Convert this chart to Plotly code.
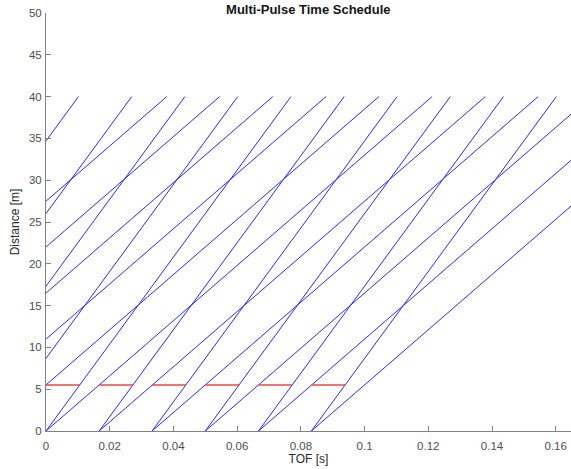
import plotly.graph_objects as go

# Pulse emission times [s] (pulses before t=0 run in from the left)
fast_start = [-0.0667, -0.0500, -0.0333, -0.0167, 0.0, 0.0167, 0.0333, 0.0500, 0.0667, 0.0833]
fast_end = [0.0102, 0.0269, 0.0436, 0.0602, 0.0769, 0.0936, 0.1102, 0.1269, 0.1436, 0.1602]
slow_start = [-0.0833, -0.0667, -0.0500, -0.0333, -0.0167, 0.0, 0.0167, 0.0333, 0.0500, 0.0667, 0.0833]
slow_end = [0.0379, 0.0545, 0.0712, 0.0879, 0.1045, 0.1212, 0.1379, 0.1545, 0.1712, 0.1879, 0.2045]
d_start = 0.0
d_end = 40.0

# Chopper openings at 5.5 m
chop_d = 5.5
chop_open = [0.0, 0.0167, 0.0333, 0.0500, 0.0667, 0.0833]
chop_close = [0.0107, 0.0274, 0.0440, 0.0607, 0.0774, 0.0940]

x_ticks = [0, 0.02, 0.04, 0.06, 0.08, 0.1, 0.12, 0.14, 0.16]
x_labels = ["0", "0.02", "0.04", "0.06", "0.08", "0.1", "0.12", "0.14", "0.16"]
y_ticks = [0, 5, 10, 15, 20, 25, 30, 35, 40, 45, 50]

fig = go.Figure()

def seg_lists(starts, ends, y0, y1):
    xs, ys = [], []
    for a, b in zip(starts, ends):
        xs += [a, b, None]
        ys += [y0, y1, None]
    return xs, ys

for st, en in ((fast_start, fast_end), (slow_start, slow_end)):
    xs, ys = seg_lists(st, en, d_start, d_end)
    fig.add_trace(go.Scatter(x=xs, y=ys, mode="lines",
                             line=dict(color="rgb(40,40,255)", width=1),
                             showlegend=False, hoverinfo="skip"))

xs, ys = seg_lists(chop_open, chop_close, chop_d, chop_d)
fig.add_trace(go.Scatter(x=xs, y=ys, mode="lines",
                         line=dict(color="rgb(240,70,70)", width=1.5),
                         showlegend=False, hoverinfo="skip"))

font = "Liberation Sans, Arial, sans-serif"
axis_common = dict(showgrid=False, zeroline=False, showline=True,
                   linecolor="rgb(130,130,130)", linewidth=1,
                   ticks="inside", ticklen=5, tickcolor="rgb(130,130,130)",
                   tickfont=dict(family=font, size=11.5, color="rgb(77,77,77)"),
                   mirror=False)

fig.update_layout(
    width=571, height=469,
    margin=dict(l=46, r=0, t=13, b=38),
    paper_bgcolor="white", plot_bgcolor="white",
    title=dict(text="<b>Multi-Pulse Time Schedule</b>", x=0.54, xanchor="center",
               xref="container", yref="container", y=1 - 14 / 469, yanchor="bottom",
               pad=dict(t=0, b=0, l=0, r=0),
               font=dict(family=font, size=13, color="rgb(20,20,20)")),
    xaxis=dict(range=[0, 0.1648], tickvals=x_ticks, ticktext=x_labels,
               ticklabelstandoff=4,
               title=dict(text="TOF [s]", standoff=2,
                          font=dict(family=font, size=12, color="rgb(40,40,40)")),
               **axis_common),
    yaxis=dict(range=[0, 50], tickvals=y_ticks, ticklabelstandoff=1,
               title=dict(text="Distance [m]", standoff=6,
                          font=dict(family=font, size=12, color="rgb(40,40,40)")),
               **axis_common),
)

fig.write_html("out.html")
